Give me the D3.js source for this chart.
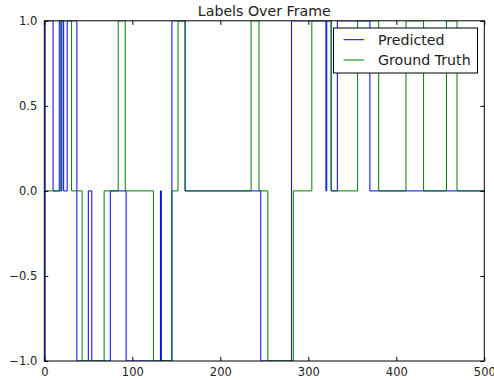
<!DOCTYPE html>
<html>
<head>
<meta charset="utf-8">
<script src="https://cdn.jsdelivr.net/npm/d3@7"></script>
<style>
  body { margin: 0; background: #fff; }
  svg { display: block; font-family: "DejaVu Sans", sans-serif; }
</style>
</head>
<body>
<div id="chart"></div>
<script>
const chartTitle = "Labels Over Frame";
const seriesNames = ["Predicted", "Ground Truth"];
const seriesColors = ["#0000ff", "#008000"];

// label change points: [frame, label] (held until the next point)
const predicted = [
  [0, -1], [1, 1], [10, 0], [17, 1], [19, 0], [20, 1], [22, 0], [26, 1],
  [37, -1], [50, 0], [54, -1], [75, 0], [93, -1], [132, 0], [133, -1],
  [145, 1], [160, 0], [246, -1], [281, 1], [320, 0], [321, 1], [326, 0],
  [333, 1], [370, 0], [500, 0]
];
const groundTruth = [
  [0, 0], [19, 1], [31, 0], [43, -1], [68, 0], [84, 1], [92, 0], [124, -1],
  [145, 0], [152, 1], [160, 0], [235, 1], [244, 0], [254, -1], [283, 0],
  [304, 1], [326, 0], [356, 1], [380, 0], [411, 1], [431, 0], [457, 1],
  [469, 0], [500, 0]
];

const xTicks = [0, 100, 200, 300, 400, 500];
const yTicks = [-1, -0.5, 0, 0.5, 1];

const width = 494, height = 380;
const margin = {top: 20.8, right: 9.7, bottom: 19, left: 44.3};

const svg = d3.select("#chart").append("svg")
  .attr("width", width)
  .attr("height", height);

const xScale = d3.scaleLinear().domain([0, 500]).range([margin.left, width - margin.right]);
const yScale = d3.scaleLinear().domain([-1, 1]).range([height - margin.bottom, margin.top]);

// clip lines to the axes box
svg.append("clipPath").attr("id", "plot-clip")
  .append("rect")
  .attr("x", xScale(0)).attr("y", yScale(1))
  .attr("width", xScale(500) - xScale(0))
  .attr("height", yScale(-1) - yScale(1));

const line = d3.line()
  .x(d => xScale(d[0]))
  .y(d => yScale(d[1]))
  .curve(d3.curveStepAfter);

[predicted, groundTruth].forEach((data, i) => {
  svg.append("path")
    .datum(data)
    .attr("clip-path", "url(#plot-clip)")
    .attr("fill", "none")
    .attr("stroke", seriesColors[i])
    .attr("stroke-width", 1)
    .attr("d", line);
});

// axes: ticks inward on all four sides (classic matplotlib look)
const tickFmt = d => d < 0 ? "\u2212" + Math.abs(d).toFixed(1) : d.toFixed(1);

const xBottom = svg.append("g")
  .attr("transform", "translate(0," + yScale(-1) + ")")
  .call(d3.axisBottom(xScale).tickValues(xTicks).tickSizeInner(-4).tickSizeOuter(0).tickPadding(7));
const xTop = svg.append("g")
  .attr("transform", "translate(0," + yScale(1) + ")")
  .call(d3.axisTop(xScale).tickValues(xTicks).tickSizeInner(-4).tickSizeOuter(0).tickFormat(""));
const yLeft = svg.append("g")
  .attr("transform", "translate(" + xScale(0) + ",0)")
  .call(d3.axisLeft(yScale).tickValues(yTicks).tickSizeInner(-4).tickSizeOuter(0).tickPadding(7).tickFormat(tickFmt));
const yRight = svg.append("g")
  .attr("transform", "translate(" + xScale(500) + ",0)")
  .call(d3.axisRight(yScale).tickValues(yTicks).tickSizeInner(-4).tickSizeOuter(0).tickFormat(""));

[xBottom, xTop, yLeft, yRight].forEach(g => {
  g.select(".domain").remove();
  g.selectAll(".tick line").attr("stroke", "#000");
  g.selectAll(".tick text")
    .attr("fill", "#222")
    .style("font-size", "11.5px")
    .style("font-family", "DejaVu Sans");
});

// frame
svg.append("rect")
  .attr("x", xScale(0)).attr("y", yScale(1))
  .attr("width", xScale(500) - xScale(0))
  .attr("height", yScale(-1) - yScale(1))
  .attr("fill", "none")
  .attr("stroke", "#000")
  .attr("stroke-width", 1);

// title
svg.append("text")
  .attr("x", (xScale(0) + xScale(500)) / 2)
  .attr("y", 16)
  .attr("text-anchor", "middle")
  .attr("fill", "#222")
  .style("font-size", "14.2px")
  .text(chartTitle);

// legend
const legend = svg.append("g").attr("transform", "translate(333.5,28)");
legend.append("rect")
  .attr("width", 144).attr("height", 45)
  .attr("fill", "#fff")
  .attr("stroke", "#000")
  .attr("stroke-width", 1);

seriesNames.forEach((name, i) => {
  const yy = 11.7 + i * 20.3;
  legend.append("line")
    .attr("x1", 10).attr("x2", 30.5)
    .attr("y1", yy).attr("y2", yy)
    .attr("stroke", seriesColors[i])
    .attr("stroke-width", 1);
  legend.append("text")
    .attr("x", 44.5)
    .attr("y", yy + 5)
    .attr("fill", "#222")
    .style("font-size", "14.2px")
    .text(name);
});
</script>
</body>
</html>
